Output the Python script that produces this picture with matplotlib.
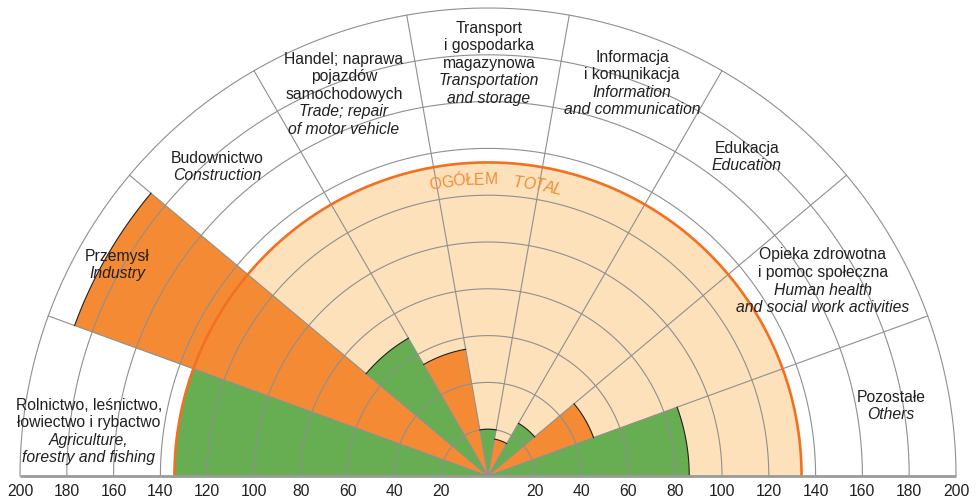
import numpy as np
import matplotlib
matplotlib.use('Agg')
import matplotlib.pyplot as plt
from matplotlib.patches import Wedge

# data
labels_pl = [
    ['Rolnictwo, leśnictwo,', 'łowiectwo i rybactwo'],
    ['Przemysł'],
    ['Budownictwo'],
    ['Handel; naprawa', 'pojazdów', 'samochodowych'],
    ['Transport', 'i gospodarka', 'magazynowa'],
    ['Informacja', 'i komunikacja'],
    ['Edukacja'],
    ['Opieka zdrowotna', 'i pomoc społeczna'],
    ['Pozostałe'],
]
labels_en = [
    ['Agriculture,', 'forestry and fishing'],
    ['Industry'],
    ['Construction'],
    ['Trade; repair', 'of motor vehicle'],
    ['Transportation', 'and storage'],
    ['Information', 'and communication'],
    ['Education'],
    ['Human health', 'and social work activities'],
    ['Others'],
]
values = [134, 188, 68, 55, 20, 16, 26, 48, 86]
total = 134
scale_ticks = [20, 40, 60, 80, 100, 120, 140, 160, 180, 200]

# colours / layout
GREEN = '#67ae53'
ORANGE = '#f48b34'
BEIGE = '#fde1bb'
LINE_OR = '#f37021'
GRID = '#8f8f8f'
TXT = '#231f20'
bar_colors = [GREEN, ORANGE] * 5

W, H = 978, 499
CX, CY = 488, 476
K = 2.34  # px per unit
FS = 11.3
# label centre (px) of first line for each sector
label_pos = [(89, 405), (117, 256), (217, 158), (344, 59), (489, 28),
             (632, 57), (747, 148), (823, 255), (891, 397)]
STEP = 17.6

plt.rcParams['font.family'] = ['Liberation Sans', 'DejaVu Sans']

fig = plt.figure(figsize=(W / 100, H / 100), dpi=100)
ax = fig.add_axes([0, 0, 1, 1])
ax.set_xlim(-CX / K, (W - CX) / K)
ax.set_ylim(-(H - CY) / K, CY / K)
ax.axis('off')

# total half disc
ax.add_patch(Wedge((0, 0), total, 0, 180, facecolor=BEIGE, edgecolor='none', zorder=1))

# sector wedges
n = len(values)
for i, v in enumerate(values):
    t2 = 180 - 20 * i
    t1 = t2 - 20
    ax.add_patch(Wedge((0, 0), v, t1, t2, facecolor=bar_colors[i],
                       edgecolor='none', zorder=2))

# grid circles and spokes
th = np.linspace(0, np.pi, 400)
for r in scale_ticks:
    ax.plot(r * np.cos(th), r * np.sin(th), color=GRID, lw=0.8, zorder=3)
for a in range(20, 180, 20):
    ar = np.deg2rad(a)
    ax.plot([0, 200 * np.cos(ar)], [0, 200 * np.sin(ar)], color=GRID, lw=0.8, zorder=3)

# black outer edges of wedges
for i, v in enumerate(values):
    t2 = 180 - 20 * i
    t = np.deg2rad(np.linspace(t2 - 20, t2, 60))
    ax.plot(v * np.cos(t), v * np.sin(t), color=TXT, lw=0.8, zorder=4)

# total arc
ax.plot(total * np.cos(th), total * np.sin(th), color=LINE_OR, lw=1.9, zorder=5)

# baseline
ax.plot([-200, 200], [0, 0], color='#9a9a9a', lw=2.0, zorder=5, solid_capstyle='butt')

# scale labels
ylab = (CY - 491) / K
for r in scale_ticks:
    for sgn in (-1, 1):
        ax.text(sgn * r, ylab, str(r), ha='center', va='center',
                fontsize=FS, color=TXT)

# sector labels
for (px, py), pl, en in zip(label_pos, labels_pl, labels_en):
    lines = [(s, 'normal') for s in pl] + [(s, 'italic') for s in en]
    for j, (s, st) in enumerate(lines):
        ax.text((px - CX) / K, (CY - (py + j * STEP)) / K, s, ha='center',
                va='center', fontsize=FS, style=st, color=TXT, zorder=6)

# curved "OGÓŁEM TOTAL" label
from matplotlib.textpath import text_to_path
from matplotlib.font_manager import FontProperties


def curved(word, ang_c, r, style):
    fp = FontProperties(family='Liberation Sans', size=FS, style=style)
    def wid(s):
        return text_to_path.get_text_width_height_descent(s, fp, ismath=False)[0] * 100 / 72 / K
    total_w = wid(word)
    for k, ch in enumerate(word):
        pos = wid(word[:k]) + wid(ch) / 2 - total_w / 2
        a = ang_c - np.rad2deg(pos / r)
        ar = np.deg2rad(a)
        ax.text(r * np.cos(ar), r * np.sin(ar), ch, fontproperties=fp,
                color=ORANGE, ha='center', va='center', rotation=a - 90,
                rotation_mode='anchor', zorder=6)


curved('OGÓŁEM', 94.8, 126.5, 'normal')
curved('TOTAL', 80.4, 126.0, 'italic')

fig.savefig('out.png', dpi=100)
